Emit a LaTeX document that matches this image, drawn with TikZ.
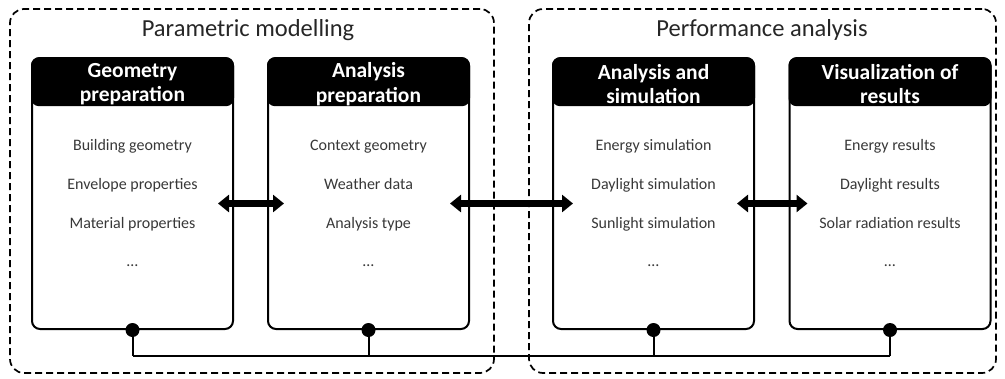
\documentclass[tikz,border=0pt]{standalone}
\usepackage{fontspec}
\setmainfont{Carlito}
\usetikzlibrary{arrows.meta,positioning,calc}

\tikzset{
  group/.style={draw, line width=1.7pt, dash pattern=on 7pt off 4pt,
    rounded corners=14pt, inner sep=0pt},
  grouptitle/.style={font=\fontsize{24.5}{28}\selectfont, text=black!85, anchor=base},
  panel/.style={draw, line width=2pt, rounded corners=8pt, inner sep=0pt,
    minimum width=201pt, minimum height=271pt},
  header/.style={fill=black, rounded corners=8pt, inner sep=0pt,
    minimum width=203pt, minimum height=49pt},
  headtext/.style={text=white, align=center, inner sep=0pt,
    font=\bfseries\fontsize{21.5}{24.5}\selectfont},
  item/.style={font=\fontsize{16}{19}\selectfont, text=black!78, inner sep=0pt, anchor=base},
  link/.style={line width=6.5pt, {Triangle[width=17pt,length=11pt]}-{Triangle[width=17pt,length=11pt]}},
  bus/.style={line width=2pt},
  joint/.style={circle, fill=black, inner sep=0pt, minimum size=14pt},
}

\begin{document}
\begin{tikzpicture}[x=1pt,y=-1pt]
\useasboundingbox (0,0) rectangle (1005,378);

% dashed groups
\node[group, minimum width=484pt, minimum height=364pt] (g1) at (252,191) {};
\node[group, minimum width=467pt, minimum height=364pt] (g2) at (762.5,191) {};
\node[grouptitle] (t1) at (248,36) {Parametric modelling};
\node[grouptitle] (t2) at (762,36) {Performance analysis};

% panels
\node[panel] (b1) at (132.5,193.5) {};
\node[panel] (b2) at (368.5,193.5) {};
\node[panel] (b3) at (653.5,193.5) {};
\node[panel] (b4) at (890,193.5) {};

% headers
\foreach \b/\t in {b1/{Geometry\\preparation}, b2/{Analysis\\preparation},
                   b3/{Analysis and\\simulation}, b4/{Visualization of\\results}}{
  \node[header, anchor=north] (\b-h) at (\b.north) {};
  \node[headtext] (\b-ht) at ([yshift=-2.5pt]\b-h.center) {\t};
}

% panel contents
\foreach \b/\i/\j/\k in {b1/Building geometry/Envelope properties/Material properties,
                          b2/Context geometry/Weather data/Analysis type,
                          b3/Energy simulation/Daylight simulation/Sunlight simulation,
                          b4/Energy results/Daylight results/Solar radiation results}{
  \node[item] (\b-1) at ($(\b.north)+(0,93)$) {\i};
  \node[item] (\b-2) at ($(\b.north)+(0,132)$) {\j};
  \node[item] (\b-3) at ($(\b.north)+(0,171)$) {\k};
  \node[item] (\b-4) at ($(\b.north)+(0,209)$) {\dots};
}

% exchanges between panels
\draw[link] ([shift={(-16,10)}]b1.east) -- ([shift={(17,10)}]b2.west);
\draw[link] ([shift={(-20,10)}]b2.east) -- ([shift={(21,10)}]b3.west);
\draw[link] ([shift={(-18,10)}]b3.east) -- ([shift={(19,10)}]b4.west);

% common bus along the bottom
\coordinate (busy) at (0,356);
\foreach \b in {b1,b2,b3,b4}{
  \node[joint] (\b-j) at (\b.south) {};
  \draw[bus] (\b-j.center) -- (\b.south |- busy);
}
\draw[bus] (b1.south |- busy) -- (b4.south |- busy);
\end{tikzpicture}
\end{document}
